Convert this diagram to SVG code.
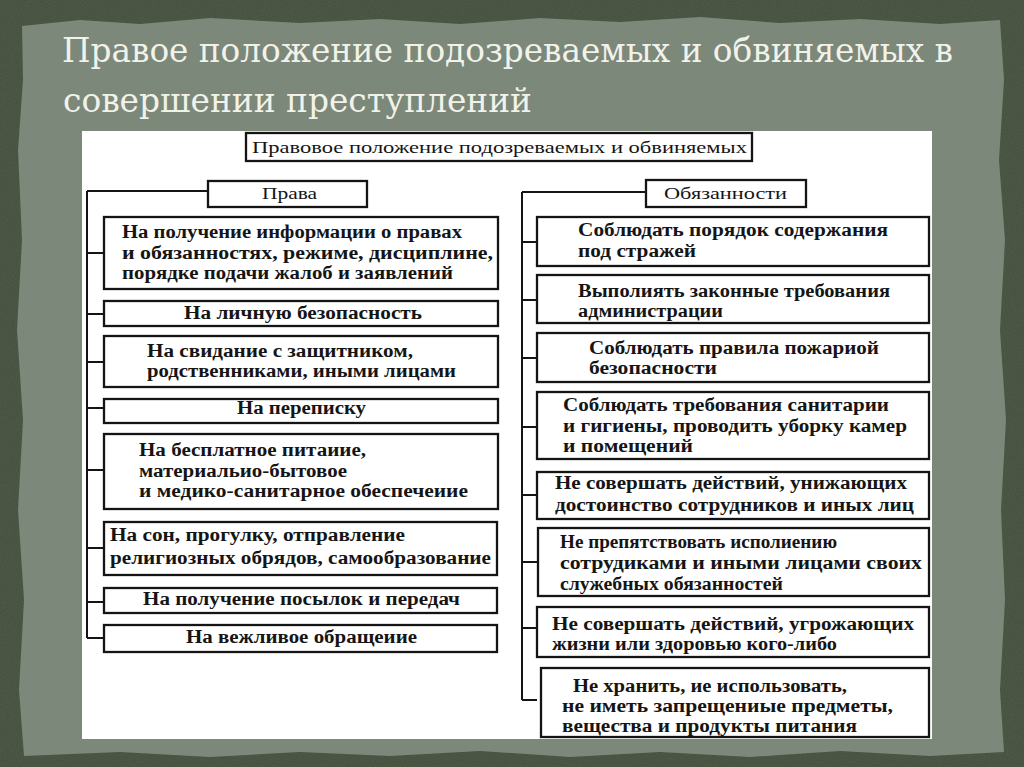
<svg xmlns="http://www.w3.org/2000/svg" width="1024" height="767" viewBox="0 0 1024 767">
<defs>
<style>
.box{fill:#fff;stroke:#141414;stroke-width:2.3}
.t{font-family:"Liberation Serif","Times New Roman",serif;font-size:18px;font-weight:bold;fill:#151515}
.h{font-family:"Liberation Serif","Times New Roman",serif;font-size:17px;fill:#151515}
.ttl{font-family:"DejaVu Serif Condensed","DejaVu Serif","Liberation Serif",serif;font-size:33px;fill:#f1f2ea}
.ln{stroke:#141414;stroke-width:2;fill:none}
</style>
<filter id="grain" x="0" y="0" width="100%" height="100%">
<feTurbulence type="fractalNoise" baseFrequency="0.9" numOctaves="2" seed="3"/>
<feColorMatrix type="matrix" values="0 0 0 0 0  0 0 0 0 0  0 0 0 0 0  0 0 0 0.18 0"/>
<feComposite in2="SourceGraphic" operator="in"/>
</filter>
</defs>
<rect x="0" y="0" width="1024" height="767" fill="#515d4a"/>
<rect x="0" y="0" width="1024" height="767" fill="#000" filter="url(#grain)"/>
<path d="M22,26 L80,20 L140,24 L210,18 L300,23 L380,19 L460,24 L540,18 L620,22 L700,17 L780,23 L860,19 L940,24 L1000,20 L1004,80 L999,160 L1005,240 L1000,330 L1006,420 L1001,510 L1005,600 L1000,690 L1004,752 L930,756 L840,751 L750,757 L660,752 L570,757 L480,751 L390,756 L300,752 L210,757 L120,752 L24,756 L19,690 L24,600 L18,510 L23,420 L17,330 L22,240 L18,150 L23,80 Z" fill="#7c8879"/>
<g id="title">
<text class="ttl" x="62" y="62" textLength="891" lengthAdjust="spacingAndGlyphs">Правое положение подозреваемых и обвиняемых в</text>
<text class="ttl" x="63" y="112" textLength="469" lengthAdjust="spacingAndGlyphs">совершении преступлений</text>
</g>
<rect x="82" y="131" width="850" height="608" fill="#fff"/>
<g id="connectors">
<path class="ln" d="M87,191 H208 M87,191 V638 M87,253 H104 M87,314 H104 M87,362 H104 M87,408 H104 M87,470 H104 M87,548 H104 M87,602 H104 M87,638 H104"/>
<path class="ln" d="M522,192 H646 M522,192 V700 M522,242 H537 M522,300 H537 M522,358 H537 M522,427 H537 M522,495 H537 M522,562 H537 M522,628 H537 M522,700 H537"/>
</g>
<g id="root">
<rect class="box" x="246" y="133" width="506" height="28"/>
<text class="h" x="252" y="153" textLength="495" lengthAdjust="spacingAndGlyphs">Правовое положение подозреваемых и обвиняемых</text>
</g>
<g id="rights">
<rect class="box" x="208" y="181" width="159" height="26"/>
<text class="h" x="262" y="199" textLength="55" lengthAdjust="spacingAndGlyphs">Права</text>
</g>
<g id="duties">
<rect class="box" x="646" y="180" width="160" height="27"/>
<text class="h" x="664" y="199" textLength="123" lengthAdjust="spacingAndGlyphs">Обязанности</text>
</g>
<g id="l1">
<rect class="box" x="104" y="217" width="394" height="72"/>
<text class="t" x="122" y="238" textLength="340" lengthAdjust="spacingAndGlyphs">На получение информации о правах</text>
<text class="t" x="122" y="259" textLength="371" lengthAdjust="spacingAndGlyphs">и обязанностях, режиме, дисциплине,</text>
<text class="t" x="122" y="279" textLength="331" lengthAdjust="spacingAndGlyphs">порядке подачи жалоб и заявлений</text>
</g>
<g id="l2">
<rect class="box" x="104" y="301" width="394" height="25"/>
<text class="t" x="184" y="319" textLength="238" lengthAdjust="spacingAndGlyphs">На личную безопасность</text>
</g>
<g id="l3">
<rect class="box" x="104" y="336" width="394" height="51"/>
<text class="t" x="147" y="357" textLength="266" lengthAdjust="spacingAndGlyphs">На свидание с защитником,</text>
<text class="t" x="147" y="377" textLength="309" lengthAdjust="spacingAndGlyphs">родственниками, иными лицами</text>
</g>
<g id="l4">
<rect class="box" x="104" y="399" width="394" height="24"/>
<text class="t" x="237" y="414" textLength="129" lengthAdjust="spacingAndGlyphs">На переписку</text>
</g>
<g id="l5">
<rect class="box" x="104" y="434" width="394" height="75"/>
<text class="t" x="139" y="456" textLength="227" lengthAdjust="spacingAndGlyphs">На бесплатное питаиие,</text>
<text class="t" x="139" y="477" textLength="208" lengthAdjust="spacingAndGlyphs">материальио-бытовое</text>
<text class="t" x="139" y="497" textLength="329" lengthAdjust="spacingAndGlyphs">и медико-санитарное обеспечеиие</text>
</g>
<g id="l6">
<rect class="box" x="104" y="522" width="393" height="53"/>
<text class="t" x="110" y="541" textLength="295" lengthAdjust="spacingAndGlyphs">На сон, прогулку, отправление</text>
<text class="t" x="110" y="564" textLength="381" lengthAdjust="spacingAndGlyphs">религиозных обрядов, самообразование</text>
</g>
<g id="l7">
<rect class="box" x="104" y="588" width="393" height="25"/>
<text class="t" x="143" y="605" textLength="317" lengthAdjust="spacingAndGlyphs">На получение посылок и передач</text>
</g>
<g id="l8">
<rect class="box" x="104" y="625" width="393" height="27"/>
<text class="t" x="186" y="643" textLength="231" lengthAdjust="spacingAndGlyphs">На вежливое обращеиие</text>
</g>
<g id="r1">
<rect class="box" x="537" y="217" width="392" height="49"/>
<text class="t" x="578" y="236" textLength="310" lengthAdjust="spacingAndGlyphs">Соблюдать порядок содержания</text>
<text class="t" x="578" y="257" textLength="118" lengthAdjust="spacingAndGlyphs">под стражей</text>
</g>
<g id="r2">
<rect class="box" x="537" y="275" width="392" height="48"/>
<text class="t" x="578" y="297" textLength="312" lengthAdjust="spacingAndGlyphs">Выполиять законные требования</text>
<text class="t" x="578" y="317" textLength="145" lengthAdjust="spacingAndGlyphs">администрации</text>
</g>
<g id="r3">
<rect class="box" x="537" y="333" width="392" height="49"/>
<text class="t" x="589" y="354" textLength="290" lengthAdjust="spacingAndGlyphs">Соблюдать правила пожариой</text>
<text class="t" x="589" y="374" textLength="128" lengthAdjust="spacingAndGlyphs">безопасности</text>
</g>
<g id="r4">
<rect class="box" x="537" y="392" width="392" height="67"/>
<text class="t" x="563" y="411" textLength="326" lengthAdjust="spacingAndGlyphs">Соблюдать требования санитарии</text>
<text class="t" x="563" y="432" textLength="344" lengthAdjust="spacingAndGlyphs">и гигиены, проводить уборку камер</text>
<text class="t" x="563" y="452" textLength="130" lengthAdjust="spacingAndGlyphs">и помещений</text>
</g>
<g id="r5">
<rect class="box" x="537" y="472" width="392" height="47"/>
<text class="t" x="555" y="489" textLength="352" lengthAdjust="spacingAndGlyphs">Не совершать действий, унижающих</text>
<text class="t" x="555" y="511" textLength="359" lengthAdjust="spacingAndGlyphs">достоинство сотрудников и иных лиц</text>
</g>
<g id="r6">
<rect class="box" x="538" y="528" width="391" height="68"/>
<text class="t" x="560" y="548" textLength="277" lengthAdjust="spacingAndGlyphs">Не препятствовать исполиению</text>
<text class="t" x="560" y="569" textLength="362" lengthAdjust="spacingAndGlyphs">сотрудиками и иными лицами своих</text>
<text class="t" x="560" y="590" textLength="223" lengthAdjust="spacingAndGlyphs">служебных обязанностей</text>
</g>
<g id="r7">
<rect class="box" x="537" y="607" width="392" height="50"/>
<text class="t" x="552" y="630" textLength="362" lengthAdjust="spacingAndGlyphs">Не совершать действий, угрожающих</text>
<text class="t" x="552" y="650" textLength="285" lengthAdjust="spacingAndGlyphs">жизни или здоровью кого-либо</text>
</g>
<g id="r8">
<rect class="box" x="541" y="668" width="388" height="69"/>
<text class="t" x="573" y="692" textLength="274" lengthAdjust="spacingAndGlyphs">Не хранить, ие использовать,</text>
<text class="t" x="562" y="712" textLength="331" lengthAdjust="spacingAndGlyphs">не иметь запрещениые предметы,</text>
<text class="t" x="562" y="732" textLength="295" lengthAdjust="spacingAndGlyphs">вещества и продукты питания</text>
</g>
</svg>
